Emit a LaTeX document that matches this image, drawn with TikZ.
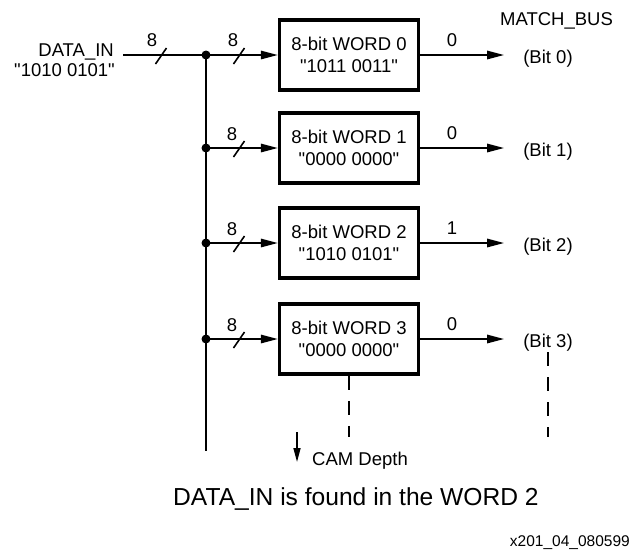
\documentclass[tikz,border=0pt]{standalone}
\usepackage{fontspec}
\setmainfont{Liberation Sans}[Ligatures=TeXOff]
\usetikzlibrary{arrows.meta}
\newcommand\dq{\char34\relax}
\begin{document}
\begin{tikzpicture}[x=1pt,y=-1pt,
  wire/.style={line width=1.6pt},
  wordbox/.style={draw,line width=3.5pt,minimum width=139pt,minimum height=70pt,
    inner sep=0pt,align=center,font=\fontsize{18.5}{21.5}\selectfont},
  lbl/.style={inner sep=0pt,font=\fontsize{18.5}{21.5}\selectfont},
  arr/.style={wire,-{Triangle[length=17pt,width=8.5pt]}},
  busmark/.style={line width=1.6pt},
  dashline/.style={wire,dash pattern=on 14pt off 11pt}
]
\useasboundingbox (0,0) rectangle (631,550);

% word boxes
\node[wordbox] (w0) at (349,55) {8-bit WORD 0\\\dq1011 0011\dq};
\node[wordbox] (w1) at (349,148) {8-bit WORD 1\\\dq0000 0000\dq};
\node[wordbox] (w2) at (349,243) {8-bit WORD 2\\\dq1010 0101\dq};
\node[wordbox] (w3) at (349,339) {8-bit WORD 3\\\dq0000 0000\dq};

% bus coordinates
\coordinate (din) at (123,55);
\coordinate (bx) at (206,0);
\coordinate (j0) at (w0.west -| bx);
\coordinate (j1) at (w1.west -| bx);
\coordinate (j2) at (w2.west -| bx);
\coordinate (j3) at (w3.west -| bx);
\coordinate (busend) at (206,451);

% input labels
\node[lbl,anchor=base east] (dinA) at (114,56) {DATA\_IN};
\node[lbl,anchor=base east] (dinB) at (115,76.7) {\dq1010 0101\dq};

% bus wires
\draw[wire] (din) -- (j0);
\draw[wire] (j0) -- (busend);
\draw[arr] (j0) -- (w0.west);
\draw[arr] (j1) -- (w1.west);
\draw[arr] (j2) -- (w2.west);
\draw[arr] (j3) -- (w3.west);
\foreach \j in {j0,j1,j2,j3} \fill (\j) circle (4.5pt);

% bus width marks
\draw[busmark,shift={(161,56)}] (-5.5,8) -- (5.5,-8);
\node[lbl,anchor=base] (n8a) at (152,46.7) {8};
\draw[busmark,shift={(239,56)}] (-5.5,8) -- (5.5,-8);
\node[lbl,anchor=base] (n8b) at (233,46.7) {8};
\foreach \y/\n in {148/c,243/d,339/e}{
  \draw[busmark,shift={(239,\y+1)}] (-5.5,8) -- (5.5,-8);
  \node[lbl,anchor=base] (n8\n) at (232,\y-8) {8};
}

% outputs
\coordinate (o0) at (504,55);
\coordinate (o1) at (504,148);
\coordinate (o2) at (504,243);
\coordinate (o3) at (504,339);
\draw[arr] (w0.east) -- (o0);
\draw[arr] (w1.east) -- (o1);
\draw[arr] (w2.east) -- (o2);
\draw[arr] (w3.east) -- (o3);
\node[lbl,anchor=base] (v0) at (452,46.7) {0};
\node[lbl,anchor=base] (v1) at (452,139.7) {0};
\node[lbl,anchor=base] (v2) at (452,234.7) {1};
\node[lbl,anchor=base] (v3) at (452,330.7) {0};

\node[lbl,anchor=base] (b0) at (548,63) {(Bit 0)};
\node[lbl,anchor=base] (b1) at (548,156) {(Bit 1)};
\node[lbl,anchor=base] (b2) at (548,251) {(Bit 2)};
\node[lbl,anchor=base] (b3) at (548,347) {(Bit 3)};
\node[lbl,anchor=base] (mb) at (556.5,25) {MATCH\_BUS};

% depth continuation
\coordinate (d3a) at (548,352);
\coordinate (d3b) at (548,437);
\coordinate (dwb) at (349,437);
\draw[dashline] (w3.south) -- (dwb);
\draw[dashline] (d3a) -- (d3b);

\coordinate (cam1) at (297,432);
\coordinate (cam2) at (297,462);
\draw[wire,-{Triangle[length=14pt,width=7pt]}] (cam1) -- (cam2);
\node[lbl,anchor=base west] (camt) at (312,465) {CAM Depth};

\node[inner sep=0pt,anchor=base west,font=\fontsize{24.6}{28}\selectfont] (res) at (173,505) {DATA\_IN is found in the WORD 2};
\node[inner sep=0pt,anchor=base east,font=\fontsize{15.5}{18}\selectfont] (fig) at (630,546) {x201\_04\_080599};
\end{tikzpicture}
\end{document}
